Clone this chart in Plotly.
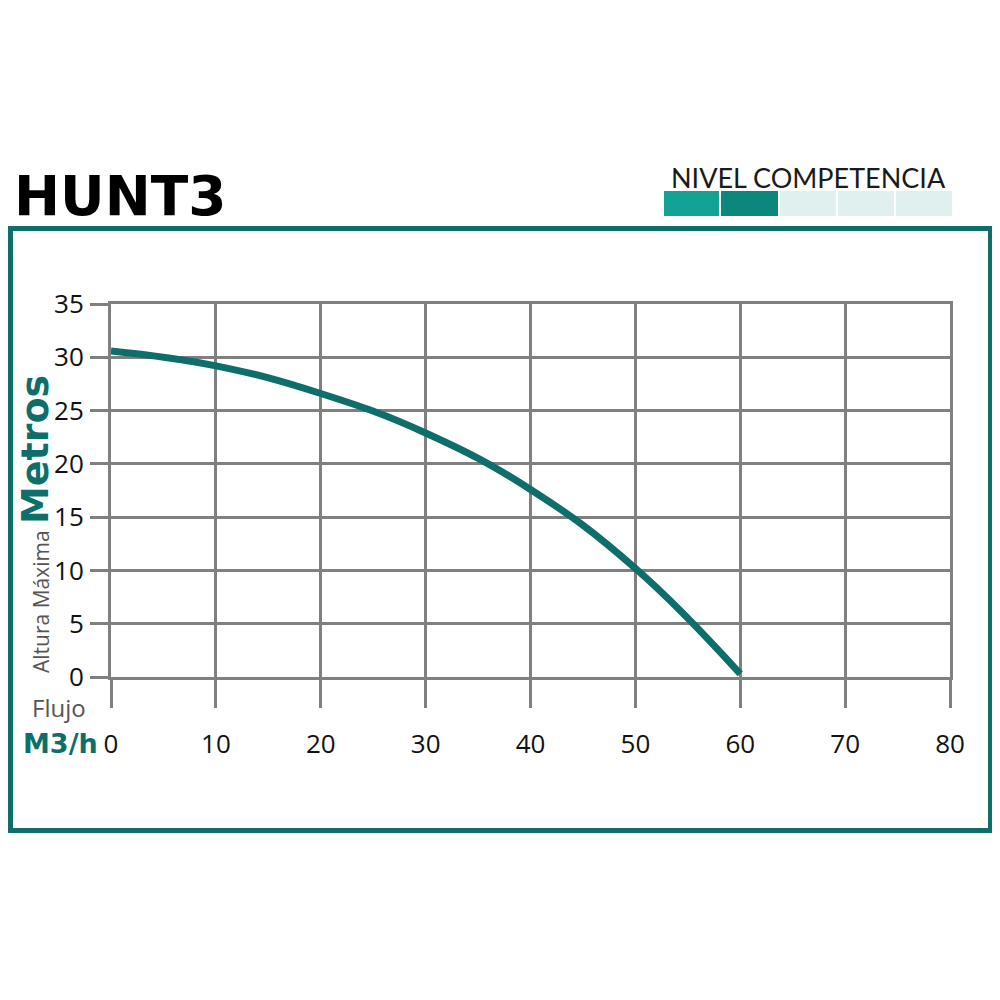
import plotly.graph_objects as go

# ---- data ----
flow = [0, 10, 20, 30, 40, 50, 60]
head = [30.6, 29.2, 26.6, 22.9, 17.6, 10.2, 0.3]
x_ticks = [0, 10, 20, 30, 40, 50, 60, 70, 80]
y_ticks = [0, 5, 10, 15, 20, 25, 30, 35]

TEAL = "#0d6e6a"
GRID = "#808080"
OFF = 8  # page body margin
W, H = 992, 992
# plot area in reference page pixels
L, R, T, B = 111, 950, 304, 677


def px(x):
    return (x - L) / (R - L)


def py(y):
    return (B - y) / (B - T)


fig = go.Figure()
fig.add_trace(go.Scatter(
    x=flow, y=head, mode="lines",
    line=dict(color=TEAL, width=7, shape="spline", smoothing=1.2),
    hoverinfo="skip", showlegend=False, cliponaxis=False,
))

axis_common = dict(
    showgrid=True, gridcolor=GRID, gridwidth=2.5,
    showline=True, linecolor=GRID, linewidth=3, mirror=True,
    zeroline=False, ticks="outside", tickcolor=GRID, tickwidth=3,
    tickfont=dict(family="Open Sans", size=26, color="#111111"),
)

fig.update_xaxes(range=[0, 80], tickvals=x_ticks, ticklen=28,
                 ticklabelstandoff=14, **axis_common)
fig.update_yaxes(range=[0, 35], tickvals=y_ticks, ticklen=18,
                 ticklabelstandoff=1, **axis_common)

shapes = []
# outer frame
shapes.append(dict(type="rect", xref="paper", yref="paper",
                   x0=px(10.5), x1=px(990.5), y0=py(830.5), y1=py(228.5),
                   line=dict(color=TEAL, width=5), layer="below"))
# level bar
seg_x = [(664, 719), (721, 778), (780, 836), (838, 894), (896, 952)]
seg_c = ["#13a394", "#0b877b", "#dff0ef", "#dff0ef", "#dff0ef"]
for (a, b), c in zip(seg_x, seg_c):
    shapes.append(dict(type="rect", xref="paper", yref="paper",
                       x0=px(a), x1=px(b), y0=py(216), y1=py(191),
                       line=dict(width=0), fillcolor=c))

annotations = [
    dict(text="<b>HUNT3</b>", x=px(12), y=py(196), xanchor="left", yanchor="middle",
         font=dict(family="DejaVu Sans", size=55, color="#000000")),
    dict(text="NIVEL COMPETENCIA", x=px(808), y=py(177), xanchor="center", yanchor="middle",
         font=dict(family="Lato", size=27, color="#1a1a1a")),
    dict(text="<b>Metros</b>", x=px(35), y=py(450), textangle=-90,
         xanchor="center", yanchor="middle",
         font=dict(family="DejaVu Sans", size=38, color=TEAL)),
    dict(text="Altura Máxima", x=px(41), y=py(602), textangle=-90,
         xanchor="center", yanchor="middle",
         font=dict(family="Open Sans", size=21, color="#555555")),
    dict(text="Flujo", x=px(59), y=py(707), xanchor="center", yanchor="middle",
         font=dict(family="Open Sans", size=24, color="#555555")),
    dict(text="<b>M3/h</b>", x=px(60), y=py(743), xanchor="center", yanchor="middle",
         font=dict(family="DejaVu Sans", size=27, color=TEAL)),
]
for a in annotations:
    a.update(xref="paper", yref="paper", showarrow=False)

fig.update_layout(
    width=W, height=H,
    margin=dict(l=L - OFF, r=W - (R - OFF), t=T - OFF, b=H - (B - OFF)),
    paper_bgcolor="white", plot_bgcolor="white",
    shapes=shapes, annotations=annotations,
)

fig.write_html("out.html")
